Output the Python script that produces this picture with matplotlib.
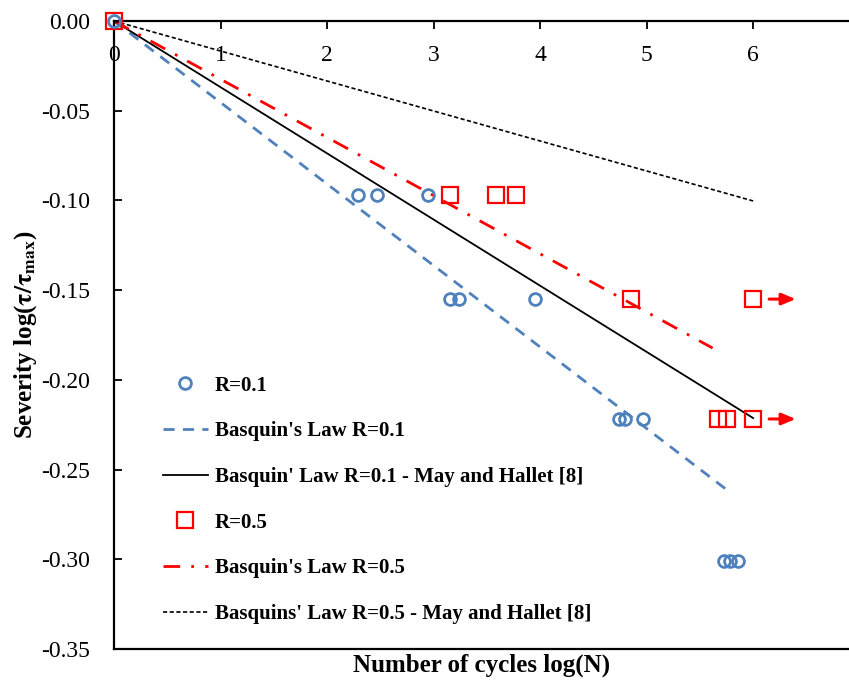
import numpy as np
import matplotlib.pyplot as plt

plt.rcParams['font.family'] = ['Liberation Serif', 'DejaVu Serif']
plt.rcParams['mathtext.fontset'] = 'stix'

# experimental points, R = 0.1
r01_x = [0.0, 2.29, 2.47, 2.95, 3.15, 3.24, 3.95, 4.74, 4.80, 4.97, 5.73, 5.78, 5.86]
r01_y = [0.0, -0.0969, -0.0969, -0.0969, -0.155, -0.155, -0.155,
         -0.2218, -0.2218, -0.2218, -0.301, -0.301, -0.301]

# experimental points, R = 0.5
r05_x = [0.0, 3.15, 3.59, 3.77, 4.85, 6.0, 5.67, 5.75, 6.0]
r05_y = [0.0, -0.0969, -0.0969, -0.0969, -0.155, -0.155, -0.2218, -0.2218, -0.2218]

# run-outs (arrows)
runout_y = [-0.155, -0.2218]
runout_x0 = 6.15
runout_x1 = 6.40

# fitted lines (start / end)
basq01_x = [0.0, 5.79]
basq01_y = [0.0, -0.263]
may01_x = [0.0, 6.0]
may01_y = [0.0, -0.2213]
basq05_x = [0.0, 5.62]
basq05_y = [0.0, -0.1823]
may05_x = [0.0, 6.0]
may05_y = [0.0, -0.1003]

yticks = [-0.35, -0.30, -0.25, -0.20, -0.15, -0.10, -0.05, 0.0]
ytick_labels = ['-0.35', '-0.30', '-0.25', '-0.20', '-0.15', '-0.10', '-0.05', '0.00']
xticks = [0, 1, 2, 3, 4, 5, 6]

blue = '#4F81BD'
red = '#FF0000'

fig = plt.figure(figsize=(8.49, 6.84), dpi=100)
ax = fig.add_axes([0.1343, 0.0512, 0.8657, 0.9181])

ax.plot(r01_x, r01_y, 'o', ms=8.5, mfc='none', mec=blue, mew=2.0, label='R=0.1',
        zorder=4, clip_on=False)
ax.plot(basq01_x, basq01_y, '--', color=blue, lw=2.0, dashes=(4, 3), label="Basquin's Law R=0.1")
ax.plot(may01_x, may01_y, '-', color='black', lw=1.3, label="Basquin' Law R=0.1 - May and Hallet [8]")
ax.plot(r05_x, r05_y, 's', ms=11, mfc='none', mec=red, mew=1.6, label='R=0.5',
        zorder=3, clip_on=False)
ax.plot(basq05_x, basq05_y, '-.', color=red, lw=2.0, dashes=(6, 4, 1, 4), label="Basquin's Law R=0.5")
ax.plot(may05_x, may05_y, '--', color='black', lw=1.2, dashes=(2.5, 1.5),
        label="Basquins' Law R=0.5 - May and Hallet [8]")

for yv in runout_y:
    ax.annotate('', xy=(runout_x1, yv), xytext=(runout_x0, yv),
                arrowprops=dict(arrowstyle='-|>,head_length=0.6,head_width=0.25',
                                color=red, lw=2.2, mutation_scale=14, shrinkA=0, shrinkB=0))

ax.set_xlim(0, 6.9)
ax.set_ylim(-0.35, 0.0)
ax.set_xticks(xticks)
ax.set_yticks(yticks)
ax.set_yticklabels(ytick_labels)

ax.xaxis.tick_top()
ax.tick_params(axis='x', direction='in', length=6, width=1.3, labelsize=17, pad=-17)
ax.tick_params(axis='y', direction='in', length=6, width=1.3, labelsize=17, pad=17)
for lab in ax.get_xticklabels():
    lab.set_verticalalignment('top')

ax.spines['right'].set_visible(False)
for s in ['left', 'top', 'bottom']:
    ax.spines[s].set_linewidth(1.6)

ax.xaxis.set_label_position('bottom')
ax.set_xlabel('Number of cycles log(N)', fontsize=18, fontweight='bold', labelpad=3)
ax.set_ylabel(r'Severity log($\mathbf{\tau/\tau_{max}}$)', fontsize=18, fontweight='bold', labelpad=2)

leg = ax.legend(loc='upper left', bbox_to_anchor=(0.041, 0.465), frameon=False,
                fontsize=15, handlelength=2.15, labelspacing=1.23, handletextpad=0.35)
for t in leg.get_texts():
    t.set_fontweight('bold')

fig.savefig('out.png', dpi=100)
